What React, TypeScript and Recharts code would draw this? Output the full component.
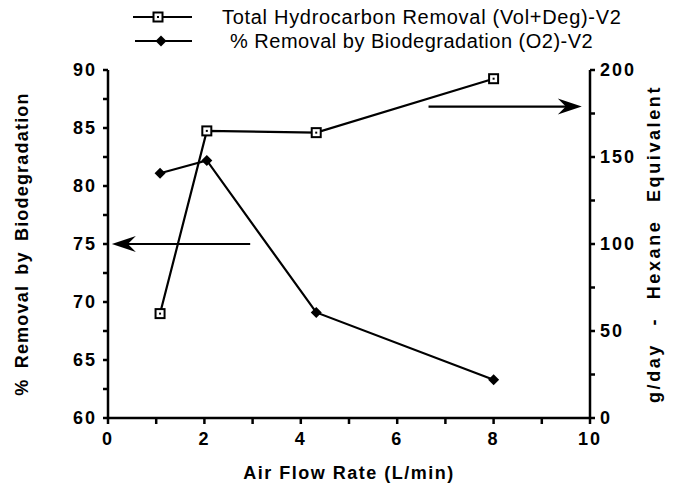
import React from 'react';
import { LineChart, Line, XAxis, YAxis, ReferenceLine } from 'recharts';

const airFlow = [1.08, 2.05, 4.32, 8.0];
const totalRemoval = [60, 165, 164, 195];
const bioRemoval = [81.1, 82.2, 69.1, 63.3];
const seriesNames = ['Total Hydrocarbon Removal (Vol+Deg)-V2', '% Removal by Biodegradation (O2)-V2'];
const xTicks = [0, 1, 2, 3, 4, 5, 6, 7, 8, 9, 10];
const xLabeled = [0, 2, 4, 6, 8, 10];
const leftTicks = [60, 62.5, 65, 67.5, 70, 72.5, 75, 77.5, 80, 82.5, 85, 87.5, 90];
const leftLabeled = [60, 65, 70, 75, 80, 85, 90];
const rightTicks = [0, 25, 50, 75, 100, 125, 150, 175, 200];
const rightLabeled = [0, 50, 100, 150, 200];
const leftArrow = [{ x: 2.95, y: 75 }, { x: 0.08, y: 75 }];
const rightArrow = [{ x: 6.65, y: 179 }, { x: 9.83, y: 179 }];

const data = airFlow.map((x, i) => ({ x, total: totalRemoval[i], bio: bioRemoval[i] }));

const FONT = '"Liberation Sans", Arial, Helvetica, sans-serif';

const SquareDot = (props: any) => {
  const { cx, cy } = props;
  if (cx == null || cy == null) return null;
  return (
    <g>
      <rect x={cx - 4.5} y={cy - 4.5} width={9} height={9} fill="#fff" stroke="#000" strokeWidth={2} />
      <rect x={cx - 1} y={cy - 1} width={2} height={2} fill="#000" />
    </g>
  );
};

const DiamondDot = (props: any) => {
  const { cx, cy } = props;
  if (cx == null || cy == null) return null;
  return <polygon points={`${cx},${cy - 5.5} ${cx + 5.5},${cy} ${cx},${cy + 5.5} ${cx - 5.5},${cy}`} fill="#000" />;
};

const ArrowShape = (props: any) => {
  const { x1, y1, x2, y2 } = props;
  if (x1 == null) return null;
  const dir = x2 > x1 ? 1 : -1;
  const hx = x2;
  const hy = y2;
  return (
    <g>
      <line x1={x1} y1={y1} x2={x2 - dir * 6} y2={y2} stroke="#000" strokeWidth={2.2} />
      <path
        d={`M${hx},${hy} L${hx - dir * 24},${hy - 8} L${hx - dir * 16},${hy} L${hx - dir * 24},${hy + 8} Z`}
        fill="#000"
      />
    </g>
  );
};

const fmt = (labeled: number[]) => (v: number) => (labeled.includes(v) ? String(v) : '');

const tickStyle = { fill: '#000', fontSize: 18, fontWeight: 700, fontFamily: FONT, letterSpacing: 2 };

const Legend = () => (
  <svg width={679} height={60} style={{ position: 'absolute', left: 0, top: 0 }}>
    <line x1={133} y1={17} x2={192} y2={17} stroke="#000" strokeWidth={2} />
    <SquareDot cx={158} cy={17} />
    <text x={222} y={24} fontFamily={FONT} fontSize={20} letterSpacing={0.7} fill="#000">{seriesNames[0]}</text>
    <line x1={135} y1={41} x2={192} y2={41} stroke="#000" strokeWidth={2} />
    <DiamondDot cx={161} cy={41} />
    <text x={230} y={48} fontFamily={FONT} fontSize={20} letterSpacing={0.5} fill="#000">{seriesNames[1]}</text>
  </svg>
);

export default function App() {
  return (
    <div style={{ position: 'absolute', left: 0, top: 0, width: 679, height: 491, background: '#fff' }}>
      <LineChart width={679} height={491} data={data} margin={{ top: 70, right: 29, bottom: 13, left: 48 }}>
        <XAxis
          dataKey="x"
          type="number"
          domain={[0, 10]}
          ticks={xTicks}
          tickFormatter={fmt(xLabeled)}
          tick={tickStyle}
          tickSize={6}
          tickMargin={8}
          height={60}
          stroke="#000"
          strokeWidth={2.5}
          label={(p: any) => {
            const vb = p.viewBox;
            return (
              <text x={vb.x + vb.width / 2} y={vb.y + 61} textAnchor="middle" fontFamily={FONT} fontSize={18} fontWeight={700} letterSpacing={1.5} fill="#000">
                Air Flow Rate (L/min)
              </text>
            );
          }}
        />
        <YAxis
          yAxisId="left"
          orientation="left"
          domain={[60, 90]}
          ticks={leftTicks}
          tickFormatter={fmt(leftLabeled)}
          tick={tickStyle}
          tickSize={5}
          tickMargin={6}
          width={60}
          stroke="#000"
          strokeWidth={2.5}
          label={(p: any) => {
            const vb = p.viewBox;
            const cx = vb.x - 26;
            const cy = vb.y + vb.height / 2;
            return (
              <text x={cx} y={cy} transform={`rotate(-90 ${cx} ${cy})`} textAnchor="middle" dominantBaseline="central" fontFamily={FONT} fontSize={18} fontWeight={700} letterSpacing={1.2} wordSpacing={4} fill="#000">
                % Removal by Biodegradation
              </text>
            );
          }}
        />
        <YAxis
          yAxisId="right"
          orientation="right"
          domain={[0, 200]}
          ticks={rightTicks}
          tickFormatter={fmt(rightLabeled)}
          tick={tickStyle}
          tickSize={5}
          tickMargin={5}
          width={60}
          stroke="#000"
          strokeWidth={2.5}
          label={(p: any) => {
            const vb = p.viewBox;
            const cx = vb.x + vb.width + 4;
            const cy = vb.y + vb.height / 2;
            return (
              <text x={cx} y={cy} transform={`rotate(-90 ${cx} ${cy})`} textAnchor="middle" dominantBaseline="central" fontFamily={FONT} fontSize={18} fontWeight={700} letterSpacing={2.6} wordSpacing={10} fill="#000">
                g/day - Hexane Equivalent
              </text>
            );
          }}
        />
        <ReferenceLine yAxisId="left" segment={leftArrow} shape={ArrowShape} ifOverflow="visible" />
        <ReferenceLine yAxisId="right" segment={rightArrow} shape={ArrowShape} ifOverflow="visible" />
        <Line
          yAxisId="right"
          dataKey="total"
          name={seriesNames[0]}
          stroke="#000"
          strokeWidth={2.2}
          dot={<SquareDot />}
          isAnimationActive={false}
        />
        <Line
          yAxisId="left"
          dataKey="bio"
          name={seriesNames[1]}
          stroke="#000"
          strokeWidth={2.2}
          dot={<DiamondDot />}
          isAnimationActive={false}
        />
      </LineChart>
      <Legend />
    </div>
  );
}
